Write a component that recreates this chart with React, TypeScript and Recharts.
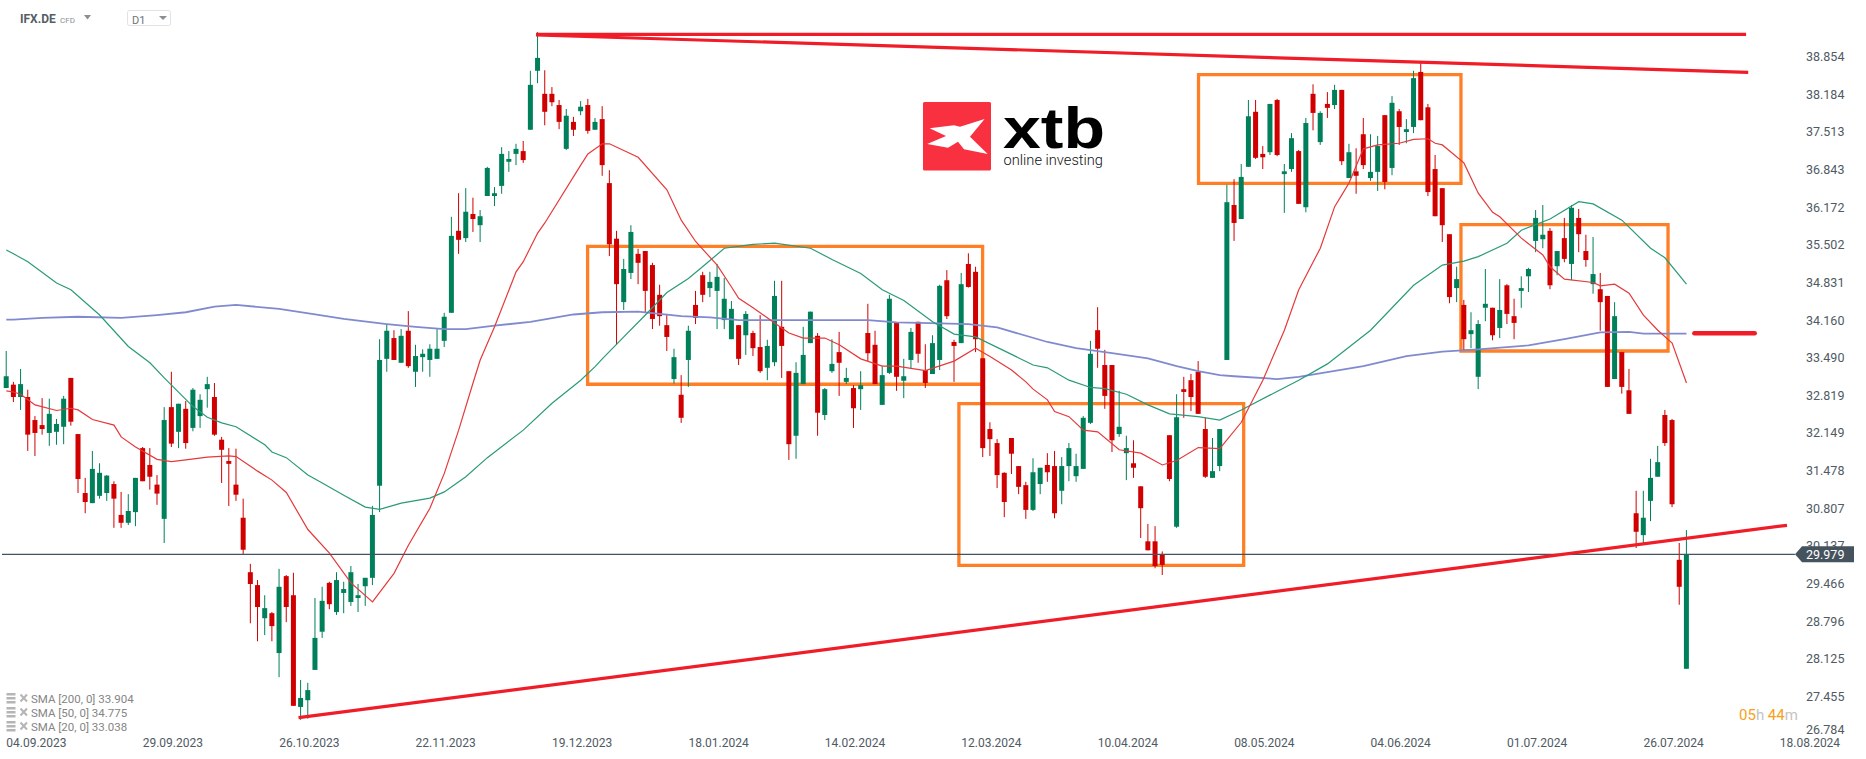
import { Bar, ComposedChart, Line, ReferenceArea, ReferenceLine, XAxis, YAxis } from "recharts";

const WIDTH = 1866;
const HEIGHT = 759;
const FONT = "Roboto, sans-serif";

const opens = [
  32.94, 33.0, 32.78, 32.78, 32.37, 32.28, 32.14, 32.16, 32.25, 33.12,
  32.12, 31.07, 30.89, 31.02, 31.07, 31.23, 30.68, 30.54, 30.73, 31.87,
  31.57, 31.22, 30.61, 32.6, 32.16, 32.57, 32.23, 32.44, 32.92, 32.78,
  32.02, 31.64, 31.22, 30.63, 29.66, 29.43, 28.84, 28.93, 28.22, 29.59,
  29.25, 27.26, 27.38, 27.92, 28.6, 29.47, 28.95, 29.29, 29.13, 29.2,
  29.41, 29.56, 31.2, 33.46, 33.83, 33.39, 33.96, 33.23, 33.49, 33.44,
  33.46, 33.78, 34.28, 35.74, 35.61, 36.04, 35.84, 36.36, 36.36, 36.54,
  36.97, 37.11, 37.16, 37.54, 38.59, 38.18, 38.18, 37.98, 37.2, 37.68,
  37.87, 37.98, 37.54, 37.73, 36.59, 35.6, 34.47, 34.99, 35.33, 35.38,
  35.13, 34.6, 34.06, 33.1, 32.82, 33.44, 34.42, 34.95, 34.72, 34.67,
  34.15, 33.81, 34.06, 33.88, 33.92, 33.67, 33.3, 33.4, 34.03, 33.24,
  32.09, 33.01, 33.74, 33.87, 32.46, 33.24, 33.58, 33.05, 32.94, 32.92,
  33.92, 33.71, 32.64, 33.21, 34.1, 33.07, 33.44, 34.12, 33.26, 33.19,
  33.44, 34.86, 33.76, 33.74, 35.15, 35.01, 33.47, 32.21, 31.96, 31.43,
  32.05, 31.55, 31.21, 30.77, 31.23, 31.57, 31.55, 31.11, 31.55, 31.37,
  31.5, 32.32, 33.97, 33.35, 33.35, 32.12, 31.78, 31.6, 31.19, 30.21,
  30.21, 29.97, 32.1, 30.47, 32.92, 33.08, 33.23, 32.21, 31.34, 31.55,
  33.44, 36.2, 35.95, 36.88, 37.86, 37.11, 37.14, 38.07, 36.75, 36.84,
  37.16, 36.16, 38.18, 37.32, 38.0, 37.98, 38.25, 36.68, 36.8, 37.46,
  36.68, 36.79, 37.8, 36.86, 37.87, 37.5, 37.59, 38.57, 37.94, 36.84,
  36.5, 35.68, 34.72, 34.42, 33.9, 33.14, 34.37, 34.37, 34.01, 34.77,
  34.22, 34.67, 34.93, 35.56, 35.59, 35.74, 35.11, 35.61, 35.15, 35.97,
  35.38, 34.79, 34.7, 34.58, 33.1, 33.58, 32.9, 30.71, 30.32, 30.93,
  31.36, 32.46, 32.37, 29.88, 27.94,
];

const highs = [
  33.6, 33.05, 33.28, 32.91, 32.44, 32.76, 32.75, 32.39, 32.8, 33.12,
  32.12, 31.34, 31.82, 31.6, 31.39, 31.28, 31.09, 31.05, 31.34, 31.89,
  31.87, 31.39, 32.6, 33.23, 32.66, 32.71, 32.94, 32.83, 33.14, 33.03,
  32.07, 31.87, 31.86, 30.97, 29.81, 29.52, 29.25, 28.95, 29.72, 29.61,
  29.65, 27.74, 27.69, 29.2, 29.4, 29.49, 29.66, 29.49, 29.77, 29.45,
  29.56, 30.84, 33.81, 34.08, 33.97, 33.99, 34.31, 33.71, 33.63, 33.72,
  33.99, 34.28, 35.99, 36.41, 36.5, 36.33, 36.11, 36.88, 36.52, 37.23,
  37.16, 37.29, 37.34, 38.59, 39.28, 38.6, 38.3, 38.07, 37.91, 37.77,
  38.05, 38.09, 37.75, 37.96, 36.82, 35.74, 35.24, 35.84, 35.42, 35.38,
  35.17, 34.78, 34.26, 33.64, 33.17, 34.05, 34.67, 35.01, 35.01, 35.15,
  34.9, 34.49, 34.06, 34.31, 33.96, 34.24, 33.8, 34.85, 34.85, 33.24,
  33.4, 34.03, 34.3, 33.92, 32.94, 33.81, 33.94, 33.3, 32.99, 33.24,
  34.44, 33.96, 33.33, 34.6, 34.1, 33.46, 34.01, 34.12, 33.72, 33.88,
  34.78, 35.04, 33.8, 34.99, 35.34, 35.1, 33.47, 32.33, 32.03, 31.44,
  32.05, 31.55, 31.27, 31.69, 31.52, 31.78, 31.82, 31.71, 31.96, 31.77,
  32.44, 33.78, 34.38, 33.62, 33.35, 32.89, 32.09, 32.01, 31.19, 30.52,
  30.48, 30.03, 32.1, 32.83, 33.14, 33.19, 33.42, 32.41, 32.05, 32.21,
  36.56, 36.66, 36.93, 38.07, 38.07, 37.25, 38.0, 38.09, 36.93, 37.48,
  37.18, 37.75, 38.35, 37.87, 38.21, 38.34, 38.25, 37.29, 37.21, 37.75,
  37.46, 37.43, 37.8, 38.14, 37.91, 37.73, 38.59, 38.73, 38.0, 37.09,
  36.5, 35.68, 35.1, 34.51, 34.29, 34.15, 35.06, 34.37, 34.88, 34.79,
  34.53, 34.93, 35.08, 36.11, 36.2, 35.79, 35.38, 35.97, 36.2, 36.13,
  35.67, 35.63, 34.99, 34.58, 34.47, 33.58, 33.28, 31.11, 31.11, 31.68,
  31.91, 32.55, 32.39, 30.18, 30.41,
];

const lows = [
  32.94, 32.69, 32.55, 31.82, 31.73, 32.11, 31.91, 31.93, 31.94, 32.27,
  31.07, 30.71, 30.89, 30.97, 30.93, 30.45, 30.45, 30.5, 30.48, 31.28,
  31.13, 30.86, 30.18, 31.89, 31.87, 31.86, 32.17, 32.23, 32.59, 32.09,
  31.25, 30.84, 30.93, 29.98, 28.75, 28.43, 28.54, 28.43, 27.79, 28.77,
  27.28, 27.03, 27.05, 27.92, 28.49, 29.0, 28.9, 28.93, 29.06, 28.95,
  29.06, 29.43, 30.73, 33.23, 33.44, 33.39, 33.3, 32.96, 33.23, 33.14,
  33.46, 33.67, 34.28, 35.33, 35.54, 35.72, 35.54, 36.36, 36.18, 36.4,
  36.79, 36.91, 36.95, 37.54, 38.37, 37.62, 37.96, 37.55, 37.18, 37.43,
  37.8, 37.47, 37.54, 36.72, 35.29, 33.71, 34.33, 34.88, 34.79, 34.29,
  33.99, 34.05, 33.6, 33.02, 32.32, 32.96, 34.08, 34.47, 34.56, 33.99,
  33.99, 33.81, 33.35, 33.53, 33.51, 33.21, 33.08, 33.33, 33.12, 31.66,
  31.68, 33.01, 33.74, 32.09, 32.37, 33.21, 32.8, 33.01, 32.23, 32.55,
  33.42, 33.01, 32.64, 33.19, 32.89, 32.76, 33.28, 33.39, 32.94, 33.19,
  33.26, 34.17, 33.05, 33.74, 34.73, 33.58, 31.71, 31.73, 31.16, 30.64,
  31.41, 31.05, 30.61, 30.75, 31.05, 31.27, 30.62, 30.87, 31.28, 31.27,
  31.5, 32.3, 33.3, 32.57, 31.8, 32.07, 31.3, 31.34, 30.27, 30.05,
  29.73, 29.61, 31.28, 30.45, 32.41, 32.53, 32.48, 31.34, 31.34, 31.46,
  33.44, 35.56, 35.95, 36.88, 37.02, 36.84, 37.09, 37.07, 36.06, 36.79,
  36.22, 36.07, 37.53, 37.27, 37.75, 37.91, 36.91, 36.68, 36.4, 36.84,
  36.63, 36.45, 36.48, 36.73, 37.27, 37.3, 37.48, 37.71, 36.36, 36.0,
  35.54, 34.45, 34.47, 33.6, 33.65, 32.92, 34.13, 33.79, 33.83, 34.08,
  33.81, 34.37, 34.65, 35.36, 35.43, 34.7, 34.95, 35.18, 34.86, 35.36,
  35.1, 34.62, 33.96, 32.96, 33.1, 32.84, 32.48, 30.09, 30.18, 30.57,
  31.36, 31.91, 30.82, 29.08, 27.94,
];

const closes = [
  33.15, 32.78, 33.01, 32.11, 32.14, 32.21, 32.48, 32.3, 32.75, 32.34,
  31.32, 30.91, 31.5, 31.43, 31.38, 30.97, 30.54, 30.75, 31.34, 31.28,
  31.36, 31.06, 32.37, 31.95, 32.66, 31.96, 32.91, 32.73, 33.01, 32.11,
  31.84, 31.59, 31.04, 30.06, 29.45, 29.04, 29.02, 28.7, 29.4, 29.04,
  27.28, 27.42, 27.56, 28.49, 29.15, 29.09, 29.52, 29.36, 29.66, 29.25,
  29.56, 30.68, 33.44, 33.96, 33.44, 33.87, 33.33, 33.51, 33.55, 33.64,
  33.64, 34.21, 35.65, 35.58, 36.08, 35.95, 36.0, 36.86, 36.41, 37.11,
  37.02, 37.2, 37.0, 38.34, 38.82, 37.86, 38.03, 37.68, 37.79, 37.54,
  37.95, 37.52, 37.68, 36.91, 35.5, 34.79, 35.06, 35.72, 35.17, 34.67,
  34.17, 34.22, 33.85, 33.49, 32.41, 33.96, 34.19, 34.6, 34.83, 34.92,
  34.53, 34.35, 33.46, 34.26, 33.65, 33.24, 33.69, 34.58, 33.69, 31.94,
  33.21, 33.53, 34.3, 32.5, 32.92, 33.37, 33.39, 33.12, 32.58, 32.99,
  33.56, 33.01, 33.17, 34.53, 33.14, 33.15, 33.94, 33.55, 33.03, 33.74,
  34.76, 34.22, 33.69, 34.79, 34.74, 33.81, 31.87, 32.03, 31.39, 30.91,
  31.77, 31.18, 30.77, 31.44, 31.52, 31.44, 30.71, 31.55, 31.87, 31.55,
  32.41, 33.55, 33.64, 32.8, 32.01, 32.25, 31.87, 31.52, 30.8, 30.05,
  29.77, 29.79, 31.32, 32.42, 32.87, 32.78, 32.48, 31.36, 31.46, 32.21,
  36.25, 35.88, 36.7, 37.78, 37.04, 37.05, 38.0, 37.09, 36.8, 37.39,
  36.22, 37.66, 37.84, 37.84, 37.93, 38.25, 36.98, 37.14, 36.72, 36.91,
  36.79, 37.25, 36.61, 38.02, 37.59, 37.55, 38.46, 37.71, 36.43, 36.0,
  35.84, 34.56, 34.88, 33.81, 33.97, 34.08, 34.44, 33.88, 34.33, 34.26,
  34.1, 34.72, 35.06, 35.97, 35.67, 34.77, 35.38, 35.24, 36.15, 35.68,
  35.22, 34.97, 34.47, 32.96, 34.22, 32.96, 32.48, 30.38, 30.63, 31.34,
  31.62, 31.96, 30.87, 29.4, 29.98,
];

// moving averages as [bar index, value]
const sma200: [number, number][] = [
  [0, 34.16], [1, 34.16], [5, 34.19], [10, 34.21], [16, 34.19], [21, 34.24], [25, 34.29], [29, 34.39], [32, 34.42],
  [38, 34.35], [43, 34.25], [47, 34.17], [53, 34.08], [57, 34.03], [61, 33.99], [64, 33.99], [68, 34.05],
  [73, 34.12], [79, 34.25], [83, 34.29], [88, 34.3], [94, 34.22], [98, 34.2], [102, 34.15], [120, 34.15],
  [124, 34.11], [130, 34.09], [134, 34.08], [138, 34.02], [145, 33.76], [149, 33.65], [154, 33.56],
  [159, 33.47], [163, 33.33], [166, 33.24], [169, 33.17], [171, 33.15], [177, 33.1], [180, 33.14],
  [189, 33.33], [195, 33.51], [200, 33.59], [205, 33.63], [212, 33.7], [217, 33.81], [222, 33.93],
  [226, 33.94], [228, 33.91], [234, 33.91],
];

const sma50: [number, number][] = [
  [0, 35.4], [1, 35.33], [3, 35.19], [7, 34.81], [9, 34.69], [13, 34.24], [17, 33.68], [20, 33.39], [22, 33.12],
  [26, 32.61], [28, 32.42], [30, 32.32], [32, 32.25], [36, 31.93], [37, 31.8], [39, 31.7], [42, 31.39],
  [44, 31.25], [47, 31.03], [50, 30.82], [52, 30.78], [55, 30.89], [59, 30.98], [61, 31.09], [64, 31.36],
  [67, 31.7], [72, 32.19], [76, 32.67], [80, 33.08], [82, 33.32], [83, 33.46], [86, 33.85], [89, 34.24],
  [92, 34.64], [95, 34.89], [98, 35.21], [100, 35.43], [104, 35.5], [107, 35.52], [112, 35.43], [115, 35.23],
  [119, 34.98], [122, 34.69], [125, 34.5], [129, 34.12], [132, 33.9], [135, 33.85], [140, 33.54], [143, 33.35],
  [145, 33.3], [148, 33.08], [151, 32.95], [153, 32.93], [156, 32.83], [159, 32.64], [162, 32.48], [166, 32.43],
  [169, 32.37], [172, 32.55], [180, 33.08], [184, 33.37], [190, 33.97], [196, 34.77], [200, 35.13], [203, 35.2],
  [205, 35.28], [209, 35.52], [211, 35.75], [215, 35.95], [219, 36.26], [221, 36.22], [225, 35.93], [229, 35.43],
  [231, 35.26], [234, 34.79],
];

const sma20: [number, number][] = [
  [0, 32.89], [1, 32.87], [2, 32.83], [4, 32.64], [7, 32.54], [9, 32.58], [10, 32.55], [12, 32.38], [15, 32.28], [16, 32.07],
  [18, 31.89], [21, 31.67], [23, 31.63], [25, 31.66], [28, 31.71], [31, 31.73], [32, 31.72], [35, 31.46],
  [37, 31.3], [39, 31.08], [42, 30.42], [45, 30.0], [48, 29.47], [51, 29.13], [54, 29.64], [56, 30.14],
  [59, 30.8], [61, 31.42], [63, 32.19], [65, 33.03], [66, 33.44], [68, 34.03], [71, 35.01], [72, 35.19],
  [74, 35.7], [75, 35.88], [80, 36.91], [81, 37.11], [83, 37.29], [84, 37.29], [88, 37.05], [92, 36.47],
  [94, 35.93], [96, 35.55], [99, 35.13], [101, 34.74], [102, 34.54], [104, 34.37], [107, 34.1], [109, 33.92],
  [111, 33.83], [114, 33.83], [116, 33.71], [119, 33.46], [122, 33.33], [124, 33.33], [128, 33.25], [132, 33.42],
  [135, 33.65], [137, 33.5], [140, 33.26], [142, 33.05], [143, 32.92], [145, 32.73], [146, 32.52], [148, 32.43],
  [150, 32.19], [152, 32.16], [155, 31.84], [158, 31.78], [161, 31.57], [163, 31.65], [166, 31.88], [169, 31.86],
  [172, 32.33], [175, 33.08], [178, 33.97], [180, 34.69], [183, 35.43], [185, 36.17], [186, 36.38], [187, 36.59],
  [189, 37.2], [191, 37.27], [194, 37.3], [196, 37.37], [198, 37.38], [199, 37.3], [200, 37.27], [203, 36.95],
  [205, 36.41], [207, 36.07], [208, 35.99], [211, 35.61], [214, 35.31], [215, 35.1], [217, 34.88], [221, 34.82],
  [222, 34.76], [224, 34.79], [226, 34.63], [228, 34.24], [230, 33.97], [232, 33.74], [234, 33.03],
];

const priceTicks = [
  38.854, 38.184, 37.513, 36.843, 36.172, 35.502, 34.831, 34.16, 33.49, 32.819, 32.149, 31.478, 30.807,
  30.137, 29.979, 29.466, 28.796, 28.125, 27.455, 26.784,
];
const dateTicks = [0, 19, 38, 57, 76, 95, 114, 133, 152, 171, 190, 209, 228, 247];
const dateLabels = [
  "04.09.2023", "29.09.2023", "26.10.2023", "22.11.2023", "19.12.2023", "18.01.2024", "14.02.2024",
  "12.03.2024", "10.04.2024", "08.05.2024", "04.06.2024", "01.07.2024", "26.07.2024", "18.08.2024",
];
const currentPrice = 29.979;

// hand drawn annotations, in bar index / price
const boxes = [
  { x1: 80.96, x2: 135.97, y1: 33.007, y2: 35.464 },
  { x1: 132.67, x2: 172.33, y1: 29.783, y2: 32.661 },
  { x1: 166.04, x2: 202.59, y1: 36.586, y2: 38.521 },
  { x1: 202.59, x2: 231.43, y1: 33.6, y2: 35.849 },
];
const trendLines = [
  { x1: 73.77, y1: 39.237, x2: 242.3, y2: 39.237 },
  { x1: 73.77, y1: 39.228, x2: 242.6, y2: 38.563 },
  { x1: 40.7, y1: 27.069, x2: 248.0, y2: 30.495 },
];
const legendRows = ["SMA [200, 0] 33.904", "SMA [50, 0] 34.775", "SMA [20, 0] 33.038"];

const sma200Map = new Map(sma200);
const sma50Map = new Map(sma50);
const sma20Map = new Map(sma20);

const chartData = opens.map((open, i) => ({
  i,
  open,
  high: highs[i],
  low: lows[i],
  close: closes[i],
  sma200: sma200Map.get(i) ?? null,
  sma50: sma50Map.get(i) ?? null,
  sma20: sma20Map.get(i) ?? null,
}));

// wick + body, scaled from the high-low range the Bar hands us
function Candle(props: any) {
  const { x, y, width, height, payload } = props;
  const isUp = payload.close >= payload.open;
  const color = isUp ? "#00805a" : "#d00000";
  const range = payload.high - payload.low;
  const perUnit = range > 0 ? height / range : 0;
  const top = Math.max(payload.open, payload.close);
  const bottom = Math.min(payload.open, payload.close);
  const bodyY = y + (payload.high - top) * perUnit;
  const bodyH = Math.max((top - bottom) * perUnit, 2);
  const cx = x + width / 2;
  return (
    <g>
      <rect x={cx - 0.5} y={y} width={1} height={height} fill={color} />
      <rect x={cx - 2.5} y={bodyY} width={5} height={bodyH} fill={color} />
    </g>
  );
}

function PriceTick(props: any) {
  const { y, payload } = props;
  if (payload.value === currentPrice) {
    return (
      <g>
        <polygon points={`1795,${y} 1802,${y - 8} 1854,${y - 8} 1854,${y + 8} 1802,${y + 8}`} fill="#45535e" />
        <text x={1806} y={y + 5} fontSize={12.5} fontFamily={FONT} fill="#ffffff">
          29.979
        </text>
      </g>
    );
  }
  const labelY = Math.min(y, 729);
  return (
    <text x={1806} y={labelY + 5} fontSize={12.5} fontFamily={FONT} fill="#4f5a63">
      {payload.value.toFixed(3)}
    </text>
  );
}

function DateTick(props: any) {
  const { x, payload } = props;
  return (
    <text x={x} y={747} fontSize={12} fontFamily={FONT} fill="#4f5a63">
      {dateLabels[dateTicks.indexOf(payload.value)]}
    </text>
  );
}

function Overlay() {
  return (
    <svg width={WIDTH} height={HEIGHT} style={{ position: "absolute", left: 0, top: 0, pointerEvents: "none" }}>
      {/* header */}
      <text x={20} y={23} fontSize={12} fontWeight={700} fontFamily={FONT} fill="#555e66">IFX.DE</text>
      <text x={60} y={23} fontSize={8} fontFamily={FONT} fill="#8a8f94">CFD</text>
      <polygon points="84,15 91,15 87.5,19.5" fill="#8a8f94" />
      <rect x={127.5} y={10.5} width={43} height={15} rx={2} fill="#fff" stroke="#e2e2e2" />
      <text x={132} y={24} fontSize={11} fontFamily={FONT} fill="#6c747a">D1</text>
      <polygon points="159,16 167,16 163,20" fill="#8a8f94" />

      {/* logo */}
      <rect x={923} y={102} width={68} height={68.5} rx={1.5} fill="#f9303f" />
      <polygon
        points="929.6,128.3 954,125.3 960,126.7 984.6,119 970,136.7 987.7,154 964,149.3 958,141.7 948,147.7 927.2,144 946,136"
        fill="#ffffff"
      />
      <text x={1003} y={148} fontSize={57} fontWeight={700} fontFamily="Liberation Sans, sans-serif" fill="#000" textLength={102} lengthAdjust="spacingAndGlyphs">
        xtb
      </text>
      <text x={1003.5} y={165} fontSize={14.5} fontWeight={300} fontFamily={FONT} fill="#111" textLength={99.5} lengthAdjust="spacingAndGlyphs">
        online investing
      </text>

      {/* indicator legend */}
      {legendRows.map((row, n) => {
        const cy = 699 + n * 14;
        return (
          <g key={row}>
            <rect x={6.5} y={cy - 6} width={9} height={2.5} fill="#b5b5b5" />
            <rect x={6.5} y={cy - 2} width={9} height={2.5} fill="#b5b5b5" />
            <rect x={6.5} y={cy + 2} width={9} height={2.5} fill="#b5b5b5" />
            <path d={`M20.5 ${cy - 4.5} L27 ${cy + 2.5} M27 ${cy - 4.5} L20.5 ${cy + 2.5}`} stroke="#b5b5b5" strokeWidth={2} />
            <text x={31} y={cy + 4} fontSize={11.5} fontFamily={FONT} fill="#858585">{row}</text>
          </g>
        );
      })}

      {/* countdown */}
      <text x={1739} y={720} fontSize={15} fontFamily={FONT}>
        <tspan fill="#f7a11a">05</tspan>
        <tspan fill="#c4c4c4">h </tspan>
        <tspan fill="#f7a11a">44</tspan>
        <tspan fill="#c4c4c4">m</tspan>
      </text>
    </svg>
  );
}

export default function App() {
  return (
    <div style={{ position: "absolute", left: 0, top: 0, width: WIDTH, height: HEIGHT, background: "#fff" }}>
      <ComposedChart width={WIDTH} height={HEIGHT} data={chartData} margin={{ top: 0, right: 0, bottom: 0, left: 0 }}>
        <XAxis
          type="number"
          dataKey="i"
          domain={[-0.877, 259]}
          ticks={dateTicks}
          interval={0}
          height={30}
          mirror
          axisLine={false}
          tickLine={false}
          tick={<DateTick />}
          allowDataOverflow
        />
        <YAxis
          orientation="right"
          type="number"
          domain={[26.333, 39.851]}
          ticks={priceTicks}
          interval={0}
          width={60}
          mirror
          axisLine={false}
          tickLine={false}
          tick={<PriceTick />}
          allowDataOverflow
        />
        <Line dataKey="sma200" stroke="#808acf" strokeWidth={1.8} dot={false} activeDot={false} connectNulls isAnimationActive={false} />
        <Line dataKey="sma50" stroke="#2a9a78" strokeWidth={1.2} dot={false} activeDot={false} connectNulls isAnimationActive={false} />
        <Line dataKey="sma20" stroke="#e5393b" strokeWidth={1.2} dot={false} activeDot={false} connectNulls isAnimationActive={false} />
        <Bar dataKey={(d: any) => [d.low, d.high]} barSize={5} shape={<Candle />} isAnimationActive={false} />
        <ReferenceLine
          segment={[{ x: -0.6, y: currentPrice }, { x: 249.1, y: currentPrice }]}
          stroke="#45535e"
          strokeWidth={1.2}
          ifOverflow="visible"
        />
        {boxes.map((b) => (
          <ReferenceArea key={b.x1} {...b} fill="none" stroke="#ff7f27" strokeWidth={3.3} ifOverflow="visible" />
        ))}
        {trendLines.map((t) => (
          <ReferenceLine
            key={t.y2}
            segment={[{ x: t.x1, y: t.y1 }, { x: t.x2, y: t.y2 }]}
            stroke="#f01c28"
            strokeWidth={3.2}
            ifOverflow="visible"
          />
        ))}
        <ReferenceLine
          segment={[{ x: 235.1, y: 33.915 }, { x: 243.5, y: 33.915 }]}
          stroke="#f01c28"
          strokeWidth={4.5}
          strokeLinecap="round"
          ifOverflow="visible"
        />
      </ComposedChart>
      <Overlay />
    </div>
  );
}
